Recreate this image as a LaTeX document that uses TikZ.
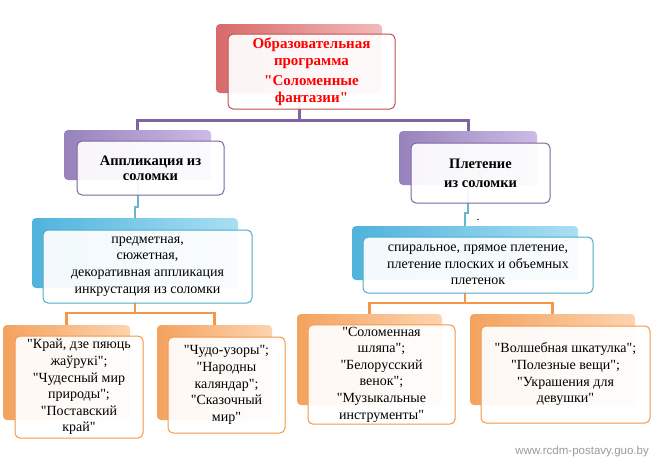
\documentclass[tikz,border=0pt]{standalone}
\usepackage{fontspec}
\setmainfont{Liberation Serif}[Ligatures=TeXOff]
\newfontfamily\wmfont{Liberation Sans}
\newcommand{\dq}{"}
\definecolor{redA}{HTML}{D86A6A}
\definecolor{redB}{HTML}{F3B9B9}
\definecolor{redL}{HTML}{C0504D}
\definecolor{purA}{HTML}{9882BC}
\definecolor{purB}{HTML}{CBBBE5}
\definecolor{purL}{HTML}{8064A2}
\definecolor{bluA}{HTML}{4FB3DC}
\definecolor{bluB}{HTML}{AADFF4}
\definecolor{bluL}{HTML}{4BACC6}
\definecolor{oraA}{HTML}{F4A25E}
\definecolor{oraB}{HTML}{FCD4B0}
\definecolor{oraL}{HTML}{F79646}
\definecolor{wmgray}{HTML}{9A9A9A}
\begin{document}
\begin{tikzpicture}[x=1pt,y=-1pt,
  back/.style={rounded corners=4pt, inner sep=0pt, draw=none},
  backR/.style={back, left color=redA, right color=redB},
  backP/.style={back, left color=purA, right color=purB},
  backB/.style={back, left color=bluA, right color=bluB},
  backO/.style={back, left color=oraA, right color=oraB},
  front/.style={rounded corners=5pt, fill=white, fill opacity=0.93, text opacity=1,
    line width=1pt, align=center, inner sep=2pt, font=\fontsize{14}{16.6}\selectfont},
  frontR/.style={front, draw=redL, text=red, font=\bfseries\fontsize{15}{17}\selectfont},
  frontP/.style={front, draw=purL, font=\bfseries\fontsize{14.5}{15}\selectfont},
  frontB/.style={front, draw=bluL},
  frontO/.style={front, draw=oraL},
  conP/.style={draw=purL, line width=3pt},
  conB/.style={draw=bluL!85, line width=2pt},
  conO/.style={draw=oraL, line width=2.5pt},
]
\useasboundingbox (0,0) rectangle (653,461);

% back shapes
\node[backR, minimum width=166pt, minimum height=69pt] (tb) at (299,58.5) {};
\node[backP, minimum width=147pt, minimum height=50pt] (lpb) at (137.5,155) {};
\node[backP, minimum width=138pt, minimum height=54pt] (rpb) at (468,158) {};
\node[backB, minimum width=206pt, minimum height=70pt] (lbb) at (135,253) {};
\node[backB, minimum width=226pt, minimum height=54pt] (rbb) at (465,253) {};
\node[backO, minimum width=127pt, minimum height=95pt] (o1b) at (66.5,372.5) {};
\node[backO, minimum width=115pt, minimum height=95pt] (o2b) at (214.5,372.5) {};
\node[backO, minimum width=145pt, minimum height=91pt] (o3b) at (369.5,359.5) {};
\node[backO, minimum width=165pt, minimum height=91pt] (o4b) at (552.5,359.5) {};

% junction coordinates
\coordinate (pj) at (299,120);
\coordinate (lbj) at (137.5,207);
\coordinate (rbj) at (468,213);
\coordinate (loj) at (135,313);
\coordinate (roj) at (465,303);

% connectors
\draw[conP] (tb.south) -- (pj) -| (lpb.north);
\draw[conP] (pj) -| (rpb.north);
\draw[conB] (lpb.south) -- (lbj) -| (lbb.north);
\draw[conB] (rpb.south) -- (rbj) -| (rbb.north);
\draw[conO] (lbb.south) -- (loj) -| (o1b.north);
\draw[conO] (loj) -| (o2b.north);
\draw[conO] (rbb.south) -- (roj) -| (o3b.north);
\draw[conO] (roj) -| (o4b.north);

% front shapes
\node[frontR, minimum width=167pt, minimum height=75pt] (tf) at (311.5,71.5)
  {Образовательная\\программа\\[3pt]\dq Соломенные\\фантазии\dq};
\node[frontP, minimum width=147pt, minimum height=54pt] (lpf) at (150.5,168)
  {Аппликация из\\соломки};
\node[frontP, minimum width=139pt, minimum height=60pt] (rpf) at (480.5,173)
  {Плетение\\[4pt]из соломки};
\node[frontB, minimum width=209pt, minimum height=73pt] (lbf) at (147.5,266.5)
  {предметная,\\сюжетная,\\декоративная аппликация\\инкрустация из соломки};
\node[frontB, minimum width=230pt, minimum height=56pt] (rbf) at (478,265)
  {спиральное, прямое плетение,\\плетение плоских и объемных\\плетенок};
\node[anchor=base, inner sep=0pt, font=\fontsize{12}{12}\selectfont] (dot) at (478,220) {.};
\node[frontO, minimum width=128pt, minimum height=102pt] (o1f) at (79,387)
  {\dq Край, дзе пяюць\\жаўрукі\dq;\\\dq Чудесный мир\\природы\dq;\\\dq Поставский\\край\dq};
\node[frontO, minimum width=117pt, minimum height=96pt] (o2f) at (226.5,385)
  {\dq Чудо-узоры\dq;\\\dq Народны\\каляндар\dq;\\\dq Сказочный\\мир\dq};
\node[frontO, minimum width=147pt, minimum height=97pt] (o3f) at (381.5,374.5)
  {\dq Соломенная\\шляпа\dq;\\\dq Белорусский\\венок\dq;\\\dq Музыкальные\\инструменты\dq};
\node[frontO, minimum width=169pt, minimum height=97pt] (o4f) at (565.5,374.5)
  {\raisebox{6pt}{\begin{tabular}{@{}c@{}}\dq Волшебная шкатулка\dq;\\\dq Полезные вещи\dq;\\\dq Украшения для\\девушки\dq\end{tabular}}};

% watermark
\node[anchor=east, inner sep=0pt, text=wmgray, font=\wmfont\fontsize{11.5}{12}\selectfont] (wm) at (649,452) {www.rcdm-postavy.guo.by};
\end{tikzpicture}
\end{document}
